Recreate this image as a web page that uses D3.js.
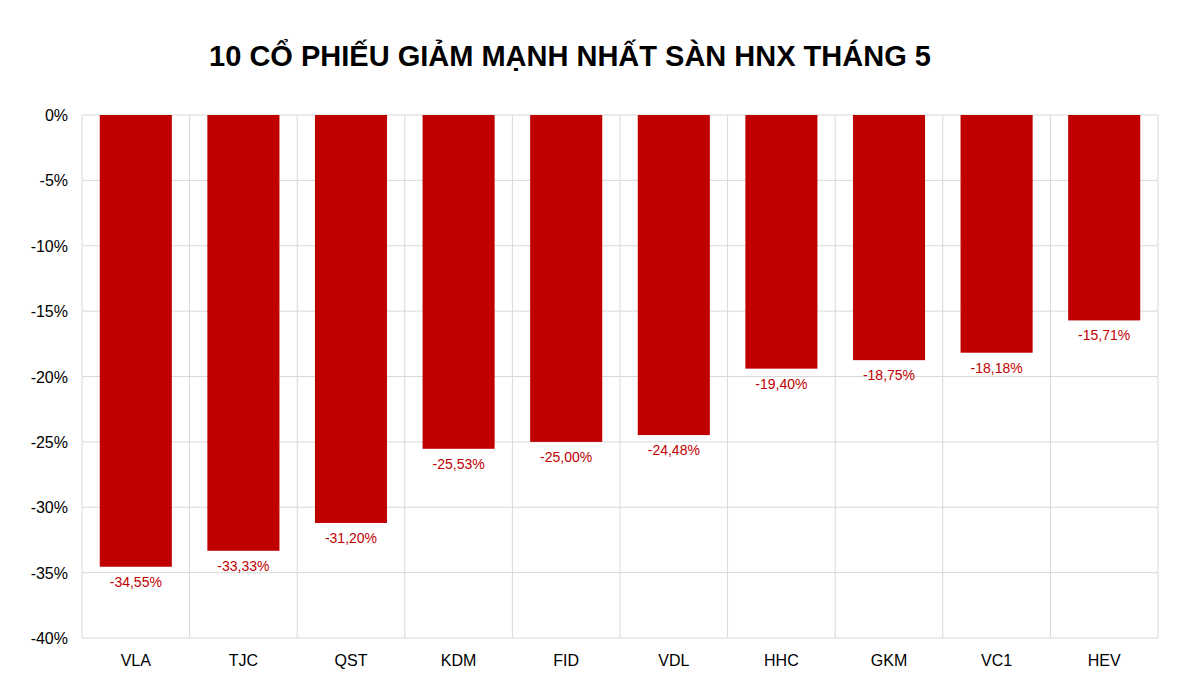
<!DOCTYPE html>
<html><head><meta charset="utf-8">
<script src="https://cdn.jsdelivr.net/npm/d3@7"></script>
<style>body{margin:0;background:#fff}</style>
</head><body>
<svg width="1200" height="690"></svg>
<script>
var tickers=['VLA','TJC','QST','KDM','FID','VDL','HHC','GKM','VC1','HEV']
var changes=[-34.55,-33.33,-31.20,-25.53,-25.00,-24.48,-19.40,-18.75,-18.18,-15.71]
var yTicks=[0,-5,-10,-15,-20,-25,-30,-35,-40]

var svg=d3.select('svg')
var x=d3.scaleBand().domain(tickers).range([82,1158]).paddingInner(0.33).paddingOuter(0.165)
var xb=d3.scaleBand().domain(tickers).range([82,1158])
var y=d3.scaleLinear().domain([0,-40]).range([115,638])
var font='Liberation Sans, Arial, sans-serif'

// luoi ngang
svg.selectAll('.h').data(yTicks).enter().append('line')
    .attr('x1',82).attr('x2',1158)
    .attr('y1',function(d){return y(d)}).attr('y2',function(d){return y(d)})
    .attr('stroke','#d9d9d9')
// luoi doc giua cac cot
var bounds=tickers.map(function(t){return xb(t)}).concat([1158])
svg.selectAll('.v').data(bounds).enter().append('line')
    .attr('x1',function(d){return d}).attr('x2',function(d){return d})
    .attr('y1',115).attr('y2',638).attr('stroke','#d9d9d9')

svg.selectAll('.yl').data(yTicks).enter().append('text')
    .attr('x',68).attr('y',function(d){return y(d)+6})
    .attr('text-anchor','end').attr('font-family',font).attr('font-size',16)
    .text(function(d){return d+'%'})

svg.selectAll('rect').data(changes).enter().append('rect')
    .attr('x',function(d,i){return x(tickers[i])})
    .attr('width',x.bandwidth())
    .attr('y',y(0))
    .attr('height',function(d){return y(d)-y(0)})
    .attr('fill','#c00000')

svg.selectAll('.lab').data(changes).enter().append('text')
    .attr('x',function(d,i){return x(tickers[i])+x.bandwidth()/2})
    .attr('y',function(d){return y(d)+20})
    .attr('text-anchor','middle').attr('font-family',font).attr('font-size',14)
    .attr('fill','#c00000')
    .text(function(d){return d.toFixed(2).replace('.',',')+'%'})

svg.selectAll('.xl').data(tickers).enter().append('text')
    .attr('x',function(d){return xb(d)+xb.bandwidth()/2}).attr('y',666)
    .attr('text-anchor','middle').attr('font-family',font).attr('font-size',16)
    .text(function(d){return d})

svg.append('text').attr('x',570).attr('y',66).attr('text-anchor','middle')
    .attr('font-family',font).attr('font-size',29).attr('font-weight','bold')
    .text('10 CỔ PHIẾU GIẢM MẠNH NHẤT SÀN HNX THÁNG 5')
</script>
</body></html>
